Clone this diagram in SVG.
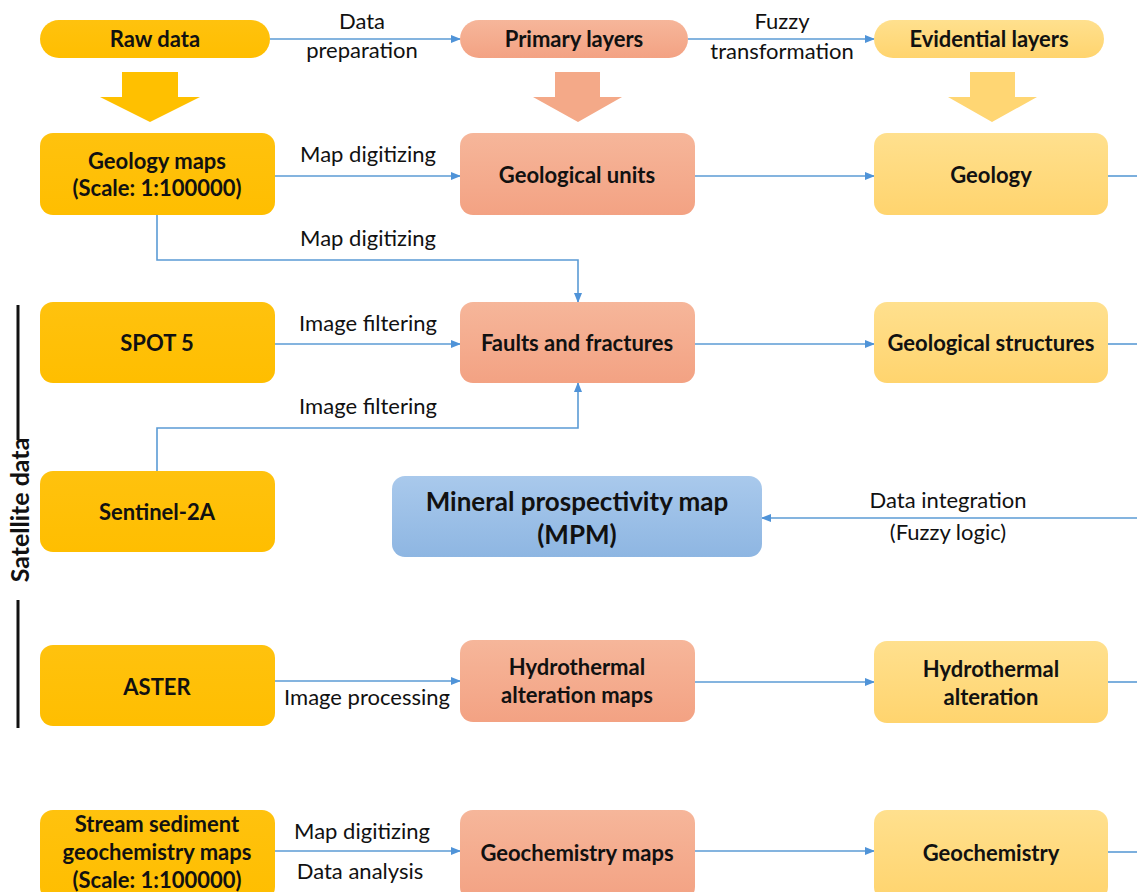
<svg xmlns="http://www.w3.org/2000/svg" width="1137" height="892" viewBox="0 0 1137 892">
<defs>
<linearGradient id="gY" x1="0" y1="0" x2="0" y2="1"><stop offset="0" stop-color="#FFC20E"/><stop offset="1" stop-color="#FFBE00"/></linearGradient>
<linearGradient id="gS" x1="0" y1="0" x2="0" y2="1"><stop offset="0" stop-color="#F6B69A"/><stop offset="1" stop-color="#F3A283"/></linearGradient>
<linearGradient id="gL" x1="0" y1="0" x2="0" y2="1"><stop offset="0" stop-color="#FFE08E"/><stop offset="1" stop-color="#FFD46E"/></linearGradient>
<linearGradient id="gB" x1="0" y1="0" x2="0" y2="1"><stop offset="0" stop-color="#A9C9EC"/><stop offset="1" stop-color="#8EB6E2"/></linearGradient>
<marker id="ah" markerWidth="10" markerHeight="8" refX="9" refY="4" orient="auto" markerUnits="userSpaceOnUse"><path d="M0,0 L10,4 L0,8 Z" fill="#4F93D8"/></marker>
</defs>
<style>
.y{fill:url(#gY)}.s{fill:url(#gS)}.l{fill:url(#gL)}.b{fill:url(#gB)}
.nt{font-family:Lato,"Open Sans","Liberation Sans",sans-serif;font-weight:bold;font-size:22px;fill:#111;text-anchor:middle}
.et{font-family:Lato,"Open Sans","Liberation Sans",sans-serif;font-size:22px;fill:#111;text-anchor:middle}
.c{fill:none;stroke:#5B9BD5;stroke-width:1.6}
</style>
<rect width="1137" height="892" fill="#fff"/>

<g id="side">
<line x1="18" y1="305" x2="18" y2="440" stroke="#111" stroke-width="3"/>
<line x1="18" y1="600" x2="18" y2="728" stroke="#111" stroke-width="3"/>
<text class="nt" style="font-size:25px" transform="translate(29,510) rotate(-90)" x="0" y="0">Satellite data</text>
</g>

<g id="bigarrows">
<path d="M122,72 H178 V97 H200 L150,122 L100,97 H122 Z" fill="#FFC000"/>
<path d="M555,72 H600 V97 H622 L578,122 L533,97 H555 Z" fill="#F4A988"/>
<path d="M970,72 H1015 V97 H1037 L992,122 L948,97 H970 Z" fill="#FFD673"/>
</g>

<g id="connectors">
<line class="c" x1="270" y1="39" x2="460" y2="39" marker-end="url(#ah)"/>
<line class="c" x1="688" y1="39" x2="874" y2="39" marker-end="url(#ah)"/>
<line class="c" x1="275" y1="176" x2="460" y2="176" marker-end="url(#ah)"/>
<line class="c" x1="695" y1="176" x2="874" y2="176" marker-end="url(#ah)"/>
<line class="c" x1="1108" y1="176" x2="1137" y2="176"/>
<polyline class="c" points="157,215 157,260 578,260 578,302" marker-end="url(#ah)"/>
<line class="c" x1="275" y1="344" x2="460" y2="344" marker-end="url(#ah)"/>
<polyline class="c" points="157,471 157,428 578,428 578,383" marker-end="url(#ah)"/>
<line class="c" x1="695" y1="344" x2="874" y2="344" marker-end="url(#ah)"/>
<line class="c" x1="1108" y1="344" x2="1137" y2="344"/>
<line class="c" x1="1137" y1="518" x2="762" y2="518" marker-end="url(#ah)"/>
<line class="c" x1="275" y1="681" x2="460" y2="681" marker-end="url(#ah)"/>
<line class="c" x1="695" y1="682" x2="874" y2="682" marker-end="url(#ah)"/>
<line class="c" x1="1108" y1="682" x2="1137" y2="682"/>
<line class="c" x1="275" y1="851" x2="460" y2="851" marker-end="url(#ah)"/>
<line class="c" x1="695" y1="851" x2="874" y2="851" marker-end="url(#ah)"/>
<line class="c" x1="1108" y1="852" x2="1137" y2="852"/>
<text class="et" x="362" y="29">Data</text>
<text class="et" x="362" y="58">preparation</text>
<text class="et" x="782" y="29">Fuzzy</text>
<text class="et" x="782" y="59">transformation</text>
<text class="et" x="368" y="162">Map digitizing</text>
<text class="et" x="368" y="246">Map digitizing</text>
<text class="et" x="368" y="331">Image filtering</text>
<text class="et" x="368" y="414">Image filtering</text>
<text class="et" x="948" y="508">Data integration</text>
<text class="et" x="948" y="540">(Fuzzy logic)</text>
<text class="et" x="367" y="705">Image processing</text>
<text class="et" x="362" y="839">Map digitizing</text>
<text class="et" x="360" y="879">Data analysis</text>
</g>

<g id="raw-data"><rect class="y" x="40" y="20" width="230" height="38" rx="19"/><text class="nt" x="155" y="47">Raw data</text></g>
<g id="primary-layers"><rect class="s" x="460" y="20" width="228" height="38" rx="19"/><text class="nt" x="574" y="47">Primary layers</text></g>
<g id="evidential-layers"><rect class="l" x="874" y="20" width="230" height="38" rx="19"/><text class="nt" x="989" y="47">Evidential layers</text></g>

<g id="geology-maps"><rect class="y" x="40" y="133" width="235" height="82" rx="13"/><text class="nt" x="157" y="169">Geology maps</text><text class="nt" x="157" y="196">(Scale: 1:100000)</text></g>
<g id="geological-units"><rect class="s" x="460" y="133" width="235" height="82" rx="13"/><text class="nt" x="577" y="183">Geological units</text></g>
<g id="geology"><rect class="l" x="874" y="133" width="234" height="82" rx="13"/><text class="nt" x="991" y="183">Geology</text></g>

<g id="spot5"><rect class="y" x="40" y="302" width="235" height="81" rx="13"/><text class="nt" x="157" y="351">SPOT 5</text></g>
<g id="faults"><rect class="s" x="460" y="302" width="235" height="81" rx="13"/><text class="nt" x="577" y="351">Faults and fractures</text></g>
<g id="geological-structures"><rect class="l" x="874" y="302" width="234" height="81" rx="13"/><text class="nt" x="991" y="351">Geological structures</text></g>

<g id="sentinel"><rect class="y" x="40" y="471" width="235" height="81" rx="13"/><text class="nt" x="157" y="520">Sentinel-2A</text></g>
<g id="mpm"><rect class="b" x="392" y="476" width="370" height="81" rx="13"/><text class="nt" style="font-size:26px" x="577" y="511">Mineral prospectivity map</text><text class="nt" style="font-size:26px" x="577" y="544">(MPM)</text></g>

<g id="aster"><rect class="y" x="40" y="645" width="235" height="81" rx="13"/><text class="nt" x="157" y="695">ASTER</text></g>
<g id="hydro-maps"><rect class="s" x="460" y="640" width="235" height="82" rx="13"/><text class="nt" x="577" y="675">Hydrothermal</text><text class="nt" x="577" y="703">alteration maps</text></g>
<g id="hydro-alteration"><rect class="l" x="874" y="641" width="234" height="82" rx="13"/><text class="nt" x="991" y="677">Hydrothermal</text><text class="nt" x="991" y="705">alteration</text></g>

<g id="stream-sediment"><rect class="y" x="40" y="810" width="235" height="90" rx="13"/><text class="nt" x="157" y="832">Stream sediment</text><text class="nt" x="157" y="860">geochemistry maps</text><text class="nt" x="157" y="888">(Scale: 1:100000)</text></g>
<g id="geochem-maps"><rect class="s" x="460" y="810" width="235" height="90" rx="13"/><text class="nt" x="577" y="861">Geochemistry maps</text></g>
<g id="geochemistry"><rect class="l" x="874" y="810" width="234" height="90" rx="13"/><text class="nt" x="991" y="861">Geochemistry</text></g>
</svg>
